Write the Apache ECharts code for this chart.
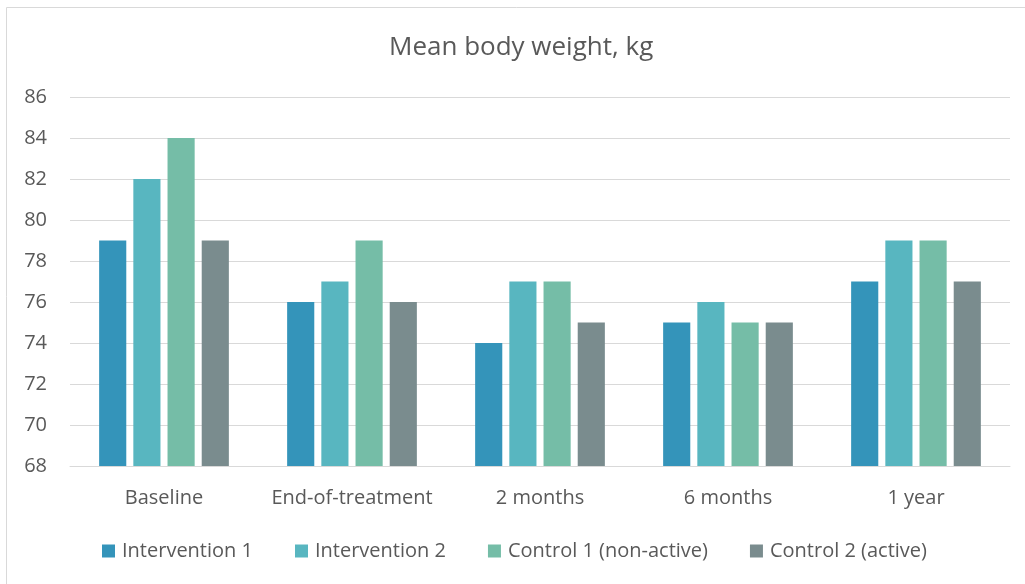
<!DOCTYPE html>
<html>
<head>
<meta charset="utf-8">
<script src="https://cdn.jsdelivr.net/npm/echarts@6/dist/echarts.min.js"></script>
<style>
  html, body { margin: 0; padding: 0; background: #fff; }
  #chart { width: 1025px; height: 584px; }
</style>
</head>
<body>
<div id="chart"></div>
<script>
var categories = ['Baseline', 'End-of-treatment', '2 months', '6 months', '1 year'];
var seriesNames = ['Intervention 1', 'Intervention 2', 'Control 1 (non-active)', 'Control 2 (active)'];
var intervention1 = [79, 76, 74, 75, 77];
var intervention2 = [82, 77, 77, 76, 79];
var control1 = [84, 79, 77, 75, 79];
var control2 = [79, 76, 75, 75, 77];
var colors = ['#3494BA', '#58B6C0', '#75BDA7', '#7A8C8E'];

var chart = echarts.init(document.getElementById('chart'));
var font = '"Open Sans", "Noto Sans", sans-serif';
var allData = [intervention1, intervention2, control1, control2];

chart.setOption({
    animation: false,
    color: colors,
    title: {
        text: 'Mean body weight, kg',
        left: 384,
        top: 30,
        textStyle: { fontFamily: font, fontSize: 26, fontWeight: 'normal', color: '#595959' }
    },
    graphic: [{
        type: 'rect',
        shape: { x: 6.5, y: 7.5, width: 1030, height: 600 },
        style: { fill: 'none', stroke: '#D9D9D9', lineWidth: 1 },
        silent: true
    }],
    legend: {
        bottom: 18,
        left: 97,
        itemWidth: 13,
        itemHeight: 13,
        itemGap: 42,
        icon: 'rect',
        textStyle: { fontFamily: font, fontSize: 20, color: '#595959', padding: [0, 0, 0, 2] },
        data: seriesNames
    },
    grid: { left: 70, right: 15, top: 97, bottom: 118 },
    xAxis: {
        type: 'category',
        data: categories,
        axisLine: { lineStyle: { color: '#D9D9D9', width: 1 } },
        axisTick: { show: false },
        axisLabel: { fontFamily: font, fontSize: 20, color: '#595959', margin: 22, interval: 0 }
    },
    yAxis: {
        type: 'value',
        min: 68,
        max: 86,
        interval: 2,
        axisLine: { show: false },
        axisTick: { show: false },
        splitLine: { lineStyle: { color: '#D9D9D9', width: 1 } },
        axisLabel: { fontFamily: font, fontSize: 20, color: '#595959', margin: 23 }
    },
    series: seriesNames.map(function (name, i) {
        return {
            name: name,
            type: 'bar',
            data: allData[i],
            barGap: '26%',
            barCategoryGap: '31%'
        };
    })
});
</script>
</body>
</html>
